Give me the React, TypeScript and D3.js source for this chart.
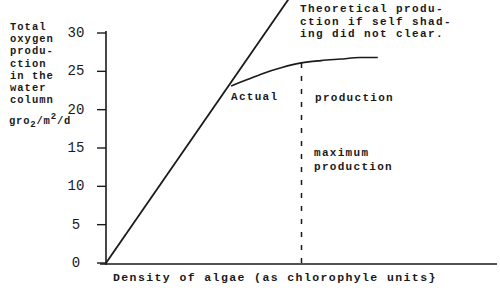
import React from "react";
import * as d3 from "d3";

const yTicks = [0, 5, 10, 15, 20, 25, 30];
const yTickLabels = ["0", "5", "10", "15", "20", "25", "30"];
const theoreticalX = [0, 4.68];
const theoreticalY = [0, 34.5];
const actualX = [3.2, 3.6, 4.0, 4.5, 5.0, 5.5, 6.0, 6.5, 6.95];
const actualY = [23.1, 23.9, 24.7, 25.5, 26.1, 26.4, 26.6, 26.8, 26.8];
const maxX = [5.0];
const maxY = [26.1];
const yTitleLines = ["Total", "oxygen", "produ-", "ction", "in the", "water", "column"];
const noteLines = ["Theoretical produ-", "ction if self shad-", "ing did not clear."];

const W = 500, H = 293;
const x = d3.scaleLinear().domain([0, 10]).range([106, 497]);
const y = d3.scaleLinear().domain([0, 30]).range([263, 33]);
const font = "'Liberation Mono', 'DejaVu Sans Mono', monospace";
const ink = "#1a1a1a";

export default function App() {
  const line = d3.line<[number, number]>().x(d => x(d[0])).y(d => y(d[1]));
  const curve = d3.line<[number, number]>().x(d => x(d[0])).y(d => y(d[1])).curve(d3.curveMonotoneX);
  const theo = line(theoreticalX.map((v, i) => [v, theoreticalY[i]]));
  const act = curve(actualX.map((v, i) => [v, actualY[i]]));
  return (
    <svg width={W} height={H} style={{ position: "absolute", left: 0, top: 0, background: "#fff" }}>
      <rect width={W} height={H} fill="#fff" />
      {/* axes */}
      <line x1={x(0)} x2={x(0)} y1={y(30) - 2} y2={y(0) + 2} stroke={ink} strokeWidth={1.6} />
      <line x1={x(0) - 6} x2={x(10)} y1={y(0) + 1} y2={y(0) + 1} stroke={ink} strokeWidth={1.6} />
      {yTicks.map((t, i) => (
        <g key={t}>
          <line x1={x(0) - 9} x2={x(0)} y1={y(t)} y2={y(t)} stroke={ink} strokeWidth={1.4} />
          <text x={76} y={y(t) + 4} textAnchor="middle" fontFamily={font} fontSize={14} fill={ink}>
            {yTickLabels[i]}
          </text>
        </g>
      ))}
      {/* theoretical line */}
      <path d={theo ?? ""} fill="none" stroke={ink} strokeWidth={1.8} />
      {/* actual curve */}
      <path d={act ?? ""} fill="none" stroke={ink} strokeWidth={1.6} />
      {/* max dashed */}
      <line x1={x(maxX[0])} x2={x(maxX[0])} y1={y(maxY[0])} y2={y(0)} stroke={ink} strokeWidth={1.5} strokeDasharray="5 8" />
      {/* labels */}
      <g fontFamily={font} fontWeight="bold" fill={ink}>
        {yTitleLines.map((s, i) => (
          <text key={s} x={10} y={30 + i * 12.2} fontSize={10.5} letterSpacing={1}>{s}</text>
        ))}
        <text x={9} y={124} fontSize={10.5} letterSpacing={0.8}>gro<tspan fontSize={9} dy={3}>2</tspan><tspan dy={-3}>/m</tspan><tspan fontSize={9} dy={-5}>2</tspan><tspan dy={5}>/d</tspan></text>
        {noteLines.map((s, i) => (
          <text key={s} x={300} y={12 + i * 12.5} fontSize={11} letterSpacing={1.4}>{s}</text>
        ))}
        <text x={231} y={100} fontSize={11} letterSpacing={1.3}>Actual</text>
        <text x={315} y={101} fontSize={11} letterSpacing={1.3}>production</text>
        <text x={314} y={156} fontSize={11} letterSpacing={1.3}>maximum</text>
        <text x={314} y={170} fontSize={11} letterSpacing={1.3}>production</text>
        <text x={113} y={281} fontSize={11.5} letterSpacing={1.4}>Density of algae (as chlorophyle units&#125;</text>
      </g>
    </svg>
  );
}
